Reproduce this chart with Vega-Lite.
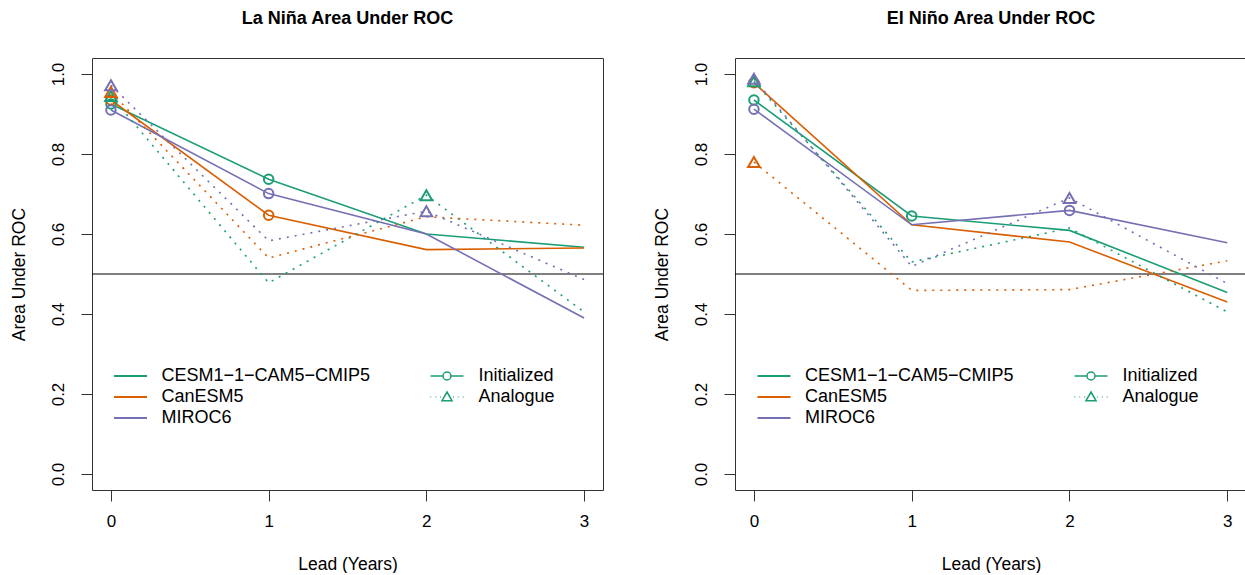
{
  "$schema": "https://vega.github.io/schema/vega-lite/v6.json",
  "padding": {"left": 9, "top": 9, "right": 0, "bottom": 0},
  "spacing": 48,
  "config": {
    "font": "Liberation Sans",
    "view": {"stroke": "#333333", "strokeWidth": 1},
    "axis": {"domain": false, "grid": false, "tickSize": 11, "tickColor": "#333333", "tickWidth": 1, "labelFontSize": 17, "labelColor": "#000000", "titleFontSize": 17.5, "titleFontWeight": "normal", "titleColor": "#000000"},
    "axisX": {"labelPadding": 12, "titlePadding": 26},
    "axisY": {"labelPadding": 14, "titlePadding": 21},
    "title": {"fontSize": 18, "fontWeight": "bold", "color": "#000000", "offset": 30, "baseline": "bottom"},
    "legend": {"labelFontSize": 18, "labelColor": "#000000", "labelLimit": 400}
  },
  "datasets": {
    "roc": [
      {"panel": "La Niña", "model": "CESM1-1-CAM5-CMIP5", "type": "Initialized", "lead": 0, "auc": 0.925, "sig": true},
      {"panel": "La Niña", "model": "CESM1-1-CAM5-CMIP5", "type": "Initialized", "lead": 1, "auc": 0.737, "sig": true},
      {"panel": "La Niña", "model": "CESM1-1-CAM5-CMIP5", "type": "Initialized", "lead": 2, "auc": 0.600, "sig": false},
      {"panel": "La Niña", "model": "CESM1-1-CAM5-CMIP5", "type": "Initialized", "lead": 3, "auc": 0.567, "sig": false},
      {"panel": "La Niña", "model": "CanESM5", "type": "Initialized", "lead": 0, "auc": 0.935, "sig": true},
      {"panel": "La Niña", "model": "CanESM5", "type": "Initialized", "lead": 1, "auc": 0.647, "sig": true},
      {"panel": "La Niña", "model": "CanESM5", "type": "Initialized", "lead": 2, "auc": 0.561, "sig": false},
      {"panel": "La Niña", "model": "CanESM5", "type": "Initialized", "lead": 3, "auc": 0.565, "sig": false},
      {"panel": "La Niña", "model": "MIROC6", "type": "Initialized", "lead": 0, "auc": 0.910, "sig": true},
      {"panel": "La Niña", "model": "MIROC6", "type": "Initialized", "lead": 1, "auc": 0.701, "sig": true},
      {"panel": "La Niña", "model": "MIROC6", "type": "Initialized", "lead": 2, "auc": 0.600, "sig": false},
      {"panel": "La Niña", "model": "MIROC6", "type": "Initialized", "lead": 3, "auc": 0.390, "sig": false},
      {"panel": "La Niña", "model": "CESM1-1-CAM5-CMIP5", "type": "Analogue", "lead": 0, "auc": 0.945, "sig": true},
      {"panel": "La Niña", "model": "CESM1-1-CAM5-CMIP5", "type": "Analogue", "lead": 1, "auc": 0.478, "sig": false},
      {"panel": "La Niña", "model": "CESM1-1-CAM5-CMIP5", "type": "Analogue", "lead": 2, "auc": 0.697, "sig": true},
      {"panel": "La Niña", "model": "CESM1-1-CAM5-CMIP5", "type": "Analogue", "lead": 3, "auc": 0.405, "sig": false},
      {"panel": "La Niña", "model": "CanESM5", "type": "Analogue", "lead": 0, "auc": 0.955, "sig": true},
      {"panel": "La Niña", "model": "CanESM5", "type": "Analogue", "lead": 1, "auc": 0.540, "sig": false},
      {"panel": "La Niña", "model": "CanESM5", "type": "Analogue", "lead": 2, "auc": 0.643, "sig": false},
      {"panel": "La Niña", "model": "CanESM5", "type": "Analogue", "lead": 3, "auc": 0.622, "sig": false},
      {"panel": "La Niña", "model": "MIROC6", "type": "Analogue", "lead": 0, "auc": 0.972, "sig": true},
      {"panel": "La Niña", "model": "MIROC6", "type": "Analogue", "lead": 1, "auc": 0.583, "sig": false},
      {"panel": "La Niña", "model": "MIROC6", "type": "Analogue", "lead": 2, "auc": 0.657, "sig": true},
      {"panel": "La Niña", "model": "MIROC6", "type": "Analogue", "lead": 3, "auc": 0.486, "sig": false},
      {"panel": "El Niño", "model": "CESM1-1-CAM5-CMIP5", "type": "Initialized", "lead": 0, "auc": 0.935, "sig": true},
      {"panel": "El Niño", "model": "CESM1-1-CAM5-CMIP5", "type": "Initialized", "lead": 1, "auc": 0.645, "sig": true},
      {"panel": "El Niño", "model": "CESM1-1-CAM5-CMIP5", "type": "Initialized", "lead": 2, "auc": 0.609, "sig": false},
      {"panel": "El Niño", "model": "CESM1-1-CAM5-CMIP5", "type": "Initialized", "lead": 3, "auc": 0.454, "sig": false},
      {"panel": "El Niño", "model": "CanESM5", "type": "Initialized", "lead": 0, "auc": 0.978, "sig": true},
      {"panel": "El Niño", "model": "CanESM5", "type": "Initialized", "lead": 1, "auc": 0.623, "sig": false},
      {"panel": "El Niño", "model": "CanESM5", "type": "Initialized", "lead": 2, "auc": 0.580, "sig": false},
      {"panel": "El Niño", "model": "CanESM5", "type": "Initialized", "lead": 3, "auc": 0.430, "sig": false},
      {"panel": "El Niño", "model": "MIROC6", "type": "Initialized", "lead": 0, "auc": 0.912, "sig": true},
      {"panel": "El Niño", "model": "MIROC6", "type": "Initialized", "lead": 1, "auc": 0.623, "sig": false},
      {"panel": "El Niño", "model": "MIROC6", "type": "Initialized", "lead": 2, "auc": 0.659, "sig": true},
      {"panel": "El Niño", "model": "MIROC6", "type": "Initialized", "lead": 3, "auc": 0.578, "sig": false},
      {"panel": "El Niño", "model": "CESM1-1-CAM5-CMIP5", "type": "Analogue", "lead": 0, "auc": 0.982, "sig": true},
      {"panel": "El Niño", "model": "CESM1-1-CAM5-CMIP5", "type": "Analogue", "lead": 1, "auc": 0.530, "sig": false},
      {"panel": "El Niño", "model": "CESM1-1-CAM5-CMIP5", "type": "Analogue", "lead": 2, "auc": 0.615, "sig": false},
      {"panel": "El Niño", "model": "CESM1-1-CAM5-CMIP5", "type": "Analogue", "lead": 3, "auc": 0.405, "sig": false},
      {"panel": "El Niño", "model": "CanESM5", "type": "Analogue", "lead": 0, "auc": 0.780, "sig": true},
      {"panel": "El Niño", "model": "CanESM5", "type": "Analogue", "lead": 1, "auc": 0.459, "sig": false},
      {"panel": "El Niño", "model": "CanESM5", "type": "Analogue", "lead": 2, "auc": 0.461, "sig": false},
      {"panel": "El Niño", "model": "CanESM5", "type": "Analogue", "lead": 3, "auc": 0.533, "sig": false},
      {"panel": "El Niño", "model": "MIROC6", "type": "Analogue", "lead": 0, "auc": 0.988, "sig": true},
      {"panel": "El Niño", "model": "MIROC6", "type": "Analogue", "lead": 1, "auc": 0.519, "sig": false},
      {"panel": "El Niño", "model": "MIROC6", "type": "Analogue", "lead": 2, "auc": 0.690, "sig": true},
      {"panel": "El Niño", "model": "MIROC6", "type": "Analogue", "lead": 3, "auc": 0.476, "sig": false}
    ]
  },
  "hconcat": [
    {
      "width": 511,
      "height": 432,
      "title": {"text": "La Niña Area Under ROC"},
      "layer": [
        {
          "data": {"values": [{"ref": 0.5}]},
          "mark": {"type": "rule", "color": "#000000", "strokeWidth": 1},
          "encoding": {"y": {"field": "ref", "type": "quantitative", "scale": {"domain": [-0.04, 1.04], "nice": false, "zero": false}, "axis": {"values": [0, 0.2, 0.4, 0.6, 0.8, 1], "format": ".1f", "labelAngle": -90, "title": "Area Under ROC"}}}
        },
        {
          "data": {"name": "roc"},
          "transform": [{"filter": "datum.panel === 'La Niña' && datum.type === 'Initialized'"}],
          "mark": {"type": "line", "strokeWidth": 1.6},
          "encoding": {
            "x": {"field": "lead", "type": "quantitative", "scale": {"domain": [-0.12, 3.12], "nice": false, "zero": false}, "axis": {"values": [0, 1, 2, 3], "format": "d", "title": "Lead (Years)"}},
            "y": {"field": "auc", "type": "quantitative"},
            "color": {"field": "model", "type": "nominal", "scale": {"domain": ["CESM1-1-CAM5-CMIP5", "CanESM5", "MIROC6"], "range": ["#1B9E77", "#D95F02", "#7570B3"]},
              "legend": {"title": null, "orient": "none", "legendX": 27.5, "legendY": 307, "symbolType": "M-1.65,0L1.65,0", "symbolSize": 400, "symbolStrokeWidth": 1.8, "labelOffset": 20, "rowPadding": 1, "labelExpr": "replace(datum.label, /-/g, '\u2212')"}}
          }
        },
        {
          "data": {"name": "roc"},
          "transform": [{"filter": "datum.panel === 'La Niña' && datum.type === 'Analogue'"}],
          "mark": {"type": "line", "strokeWidth": 1.6, "strokeDash": [2, 6]},
          "encoding": {
            "x": {"field": "lead", "type": "quantitative"},
            "y": {"field": "auc", "type": "quantitative"},
            "color": {"field": "model", "type": "nominal", "legend": null}
          }
        },
        {
          "data": {"name": "roc"},
          "transform": [{"filter": "datum.panel === 'La Niña' && datum.sig && datum.type === 'Initialized'"}],
          "mark": {"type": "point", "shape": "circle", "filled": false, "size": 90, "strokeWidth": 2, "opacity": 1},
          "encoding": {
            "x": {"field": "lead", "type": "quantitative"},
            "y": {"field": "auc", "type": "quantitative"},
            "color": {"field": "model", "type": "nominal", "legend": null}
          }
        },
        {
          "data": {"name": "roc"},
          "transform": [{"filter": "datum.panel === 'La Niña' && datum.sig && datum.type === 'Analogue'"}],
          "mark": {"type": "point", "shape": "triangle-up", "filled": false, "size": 135, "strokeWidth": 2, "opacity": 1},
          "encoding": {
            "x": {"field": "lead", "type": "quantitative"},
            "y": {"field": "auc", "type": "quantitative"},
            "color": {"field": "model", "type": "nominal", "legend": null}
          }
        },
        {
          "data": {"name": "roc"},
          "transform": [{"filter": "false"}],
          "mark": {"type": "point", "filled": false, "color": "#1B9E77", "strokeWidth": 1.5, "opacity": 1},
          "encoding": {
            "x": {"field": "lead", "type": "quantitative"},
            "y": {"field": "auc", "type": "quantitative"},
            "shape": {"field": "type", "type": "nominal",
              "scale": {"domain": ["Initialized", "Analogue"], "range": ["M-1.65,0L-0.4,0M0.4,0L1.65,0M0.4,0A0.4,0.4,0,1,1,-0.4,0A0.4,0.4,0,1,1,0.4,0", "M-1.65,0L-1.58,0M-1.15,0L-1.08,0M-0.7,0L-0.63,0M0.63,0L0.7,0M1.08,0L1.15,0M1.58,0L1.65,0M0,-0.5L0.51,0.38L-0.51,0.38Z"]},
              "legend": {"title": null, "orient": "none", "legendX": 344, "legendY": 307, "symbolSize": 400, "symbolStrokeColor": "#1B9E77", "symbolFillColor": "transparent", "symbolStrokeWidth": 1.5, "labelOffset": 20.5, "rowPadding": 1}}
          }
        }
      ]
    },
    {
      "width": 512,
      "height": 432,
      "title": {"text": "El Niño Area Under ROC"},
      "layer": [
        {
          "data": {"values": [{"ref": 0.5}]},
          "mark": {"type": "rule", "color": "#000000", "strokeWidth": 1},
          "encoding": {"y": {"field": "ref", "type": "quantitative", "scale": {"domain": [-0.04, 1.04], "nice": false, "zero": false}, "axis": {"values": [0, 0.2, 0.4, 0.6, 0.8, 1], "format": ".1f", "labelAngle": -90, "title": "Area Under ROC"}}}
        },
        {
          "data": {"name": "roc"},
          "transform": [{"filter": "datum.panel === 'El Niño' && datum.type === 'Initialized'"}],
          "mark": {"type": "line", "strokeWidth": 1.6},
          "encoding": {
            "x": {"field": "lead", "type": "quantitative", "scale": {"domain": [-0.12, 3.125], "nice": false, "zero": false}, "axis": {"values": [0, 1, 2, 3], "format": "d", "title": "Lead (Years)"}},
            "y": {"field": "auc", "type": "quantitative"},
            "color": {"field": "model", "type": "nominal", "scale": {"domain": ["CESM1-1-CAM5-CMIP5", "CanESM5", "MIROC6"], "range": ["#1B9E77", "#D95F02", "#7570B3"]},
              "legend": {"title": null, "orient": "none", "legendX": 28, "legendY": 307, "symbolType": "M-1.65,0L1.65,0", "symbolSize": 400, "symbolStrokeWidth": 1.8, "labelOffset": 20, "rowPadding": 1, "labelExpr": "replace(datum.label, /-/g, '\u2212')"}}
          }
        },
        {
          "data": {"name": "roc"},
          "transform": [{"filter": "datum.panel === 'El Niño' && datum.type === 'Analogue'"}],
          "mark": {"type": "line", "strokeWidth": 1.6, "strokeDash": [2, 6]},
          "encoding": {
            "x": {"field": "lead", "type": "quantitative"},
            "y": {"field": "auc", "type": "quantitative"},
            "color": {"field": "model", "type": "nominal", "legend": null}
          }
        },
        {
          "data": {"name": "roc"},
          "transform": [{"filter": "datum.panel === 'El Niño' && datum.sig && datum.type === 'Initialized'"}],
          "mark": {"type": "point", "shape": "circle", "filled": false, "size": 90, "strokeWidth": 2, "opacity": 1},
          "encoding": {
            "x": {"field": "lead", "type": "quantitative"},
            "y": {"field": "auc", "type": "quantitative"},
            "color": {"field": "model", "type": "nominal", "legend": null}
          }
        },
        {
          "data": {"name": "roc"},
          "transform": [{"filter": "datum.panel === 'El Niño' && datum.sig && datum.type === 'Analogue'"}],
          "mark": {"type": "point", "shape": "triangle-up", "filled": false, "size": 135, "strokeWidth": 2, "opacity": 1},
          "encoding": {
            "x": {"field": "lead", "type": "quantitative"},
            "y": {"field": "auc", "type": "quantitative"},
            "color": {"field": "model", "type": "nominal", "legend": null}
          }
        },
        {
          "data": {"name": "roc"},
          "transform": [{"filter": "false"}],
          "mark": {"type": "point", "filled": false, "color": "#1B9E77", "strokeWidth": 1.5, "opacity": 1},
          "encoding": {
            "x": {"field": "lead", "type": "quantitative"},
            "y": {"field": "auc", "type": "quantitative"},
            "shape": {"field": "type", "type": "nominal",
              "scale": {"domain": ["Initialized", "Analogue"], "range": ["M-1.65,0L-0.4,0M0.4,0L1.65,0M0.4,0A0.4,0.4,0,1,1,-0.4,0A0.4,0.4,0,1,1,0.4,0", "M-1.65,0L-1.58,0M-1.15,0L-1.08,0M-0.7,0L-0.63,0M0.63,0L0.7,0M1.08,0L1.15,0M1.58,0L1.65,0M0,-0.5L0.51,0.38L-0.51,0.38Z"]},
              "legend": {"title": null, "orient": "none", "legendX": 345, "legendY": 307, "symbolSize": 400, "symbolStrokeColor": "#1B9E77", "symbolFillColor": "transparent", "symbolStrokeWidth": 1.5, "labelOffset": 20.5, "rowPadding": 1}}
          }
        }
      ]
    }
  ],
  "resolve": {"scale": {"color": "independent", "shape": "independent"}, "legend": {"color": "independent", "shape": "independent"}}
}
